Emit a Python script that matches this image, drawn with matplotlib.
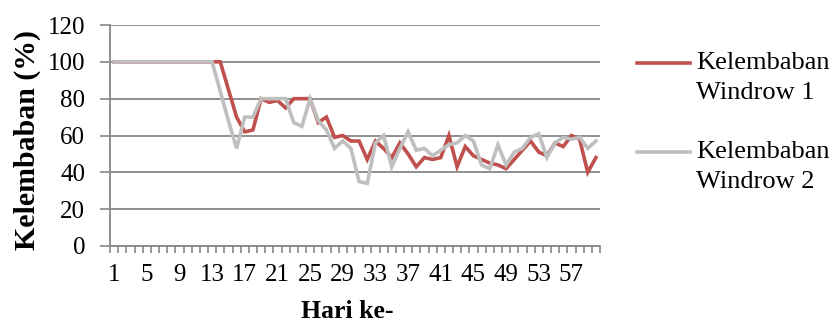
import numpy as np
import matplotlib
matplotlib.use("Agg")
import matplotlib.pyplot as plt
from matplotlib.lines import Line2D

plt.rcParams['font.family'] = ['Liberation Serif', 'DejaVu Serif']

# daily moisture readings (%) for the two compost windrows
hari = list(range(1, 61))
windrow_1 = [100, 100, 100, 100, 100, 100, 100, 100, 100, 100,
             100, 100, 100, 100, 85, 70, 62, 63, 80, 78,
             79, 75, 80, 80, 80, 67, 70, 59, 60, 57,
             57, 47, 57, 53, 48, 56, 50, 43, 48, 47,
             48, 60, 43, 54, 49, 47, 45, 44, 42, 47,
             52, 57, 51, 49, 56, 54, 60, 58, 40, 48]
windrow_2 = [100, 100, 100, 100, 100, 100, 100, 100, 100, 100,
             100, 100, 100, 84, 68, 53, 70, 70, 80, 80,
             80, 80, 67, 65, 80, 68, 63, 53, 57, 53,
             35, 34, 56, 60, 43, 53, 62, 52, 53, 49,
             52, 55, 56, 60, 57, 44, 42, 55, 44, 51,
             53, 59, 61, 48, 56, 59, 58, 59, 53, 57]
label_hari = [1, 5, 9, 13, 17, 21, 25, 29, 33, 37, 41, 45, 49, 53, 57]
y_ticks = [0, 20, 40, 60, 80, 100, 120]
seri = ["Kelembaban Windrow 1", "Kelembaban Windrow 2"]

W, H = 830, 327
merah = "#C0504D"
abu = "#BFBFBF"
garis = "#878787"
fs = 18

fig = plt.figure(figsize=(W / 100, H / 100), dpi=100)
ax = fig.add_axes([110 / W, 1 - 246 / H, 490 / W, 221 / H])

ax.plot(hari, windrow_1, color=merah, lw=2.6, solid_joinstyle="miter", zorder=3)
ax.plot(hari, windrow_2, color=abu, lw=2.6, solid_joinstyle="miter", zorder=4)

ax.set_xlim(0.5, 60.5)
ax.set_ylim(0, 120)
ax.set_yticks(y_ticks)
ax.set_yticklabels([str(v) for v in y_ticks], fontsize=fs)
ax.yaxis.grid(True, color=garis, lw=1.3)
ax.set_axisbelow(True)

# category ticks sit between the days, labels every fourth day
ax.set_xticks(np.arange(0.5, 61, 1), minor=True)
ax.set_xticks(label_hari)
ax.set_xticklabels([str(v) for v in label_hari], fontsize=fs)
ax.tick_params(axis="x", which="major", length=0, pad=13)
ax.tick_params(axis="x", which="minor", length=5, width=1.2, color=garis, direction="out")
ax.tick_params(axis="y", length=7, width=1.2, color=garis, direction="out", pad=11)

for s in ["top", "right"]:
    ax.spines[s].set_visible(False)
for s in ["left", "bottom"]:
    ax.spines[s].set_color(garis)
    ax.spines[s].set_linewidth(1.3)

fig.text(27 / W, 1 - 140 / H, "Kelembaban (%)", rotation=90, fontsize=21.5,
         fontweight="bold", ha="center", va="center")
fig.text(347 / W, 1 - 312 / H, "Hari ke-", fontsize=18.5, fontweight="bold",
         ha="center", va="center")

# legend drawn by hand so the swatch lines up with the first text line
for i, (nama, warna) in enumerate(zip(seri, [merah, abu])):
    y0 = 63 + i * 89
    fig.add_artist(Line2D([637 / W, 690 / W], [1 - y0 / H, 1 - y0 / H],
                          color=warna, lw=2.6, transform=fig.transFigure))
    kata = nama.split(" ", 1)
    fig.text(696 / W, 1 - y0 / H, kata[0], fontsize=19, va="center")
    fig.text(696 / W, 1 - (y0 + 30) / H, kata[1], fontsize=19, va="center")

fig.savefig("out.png", dpi=100)
